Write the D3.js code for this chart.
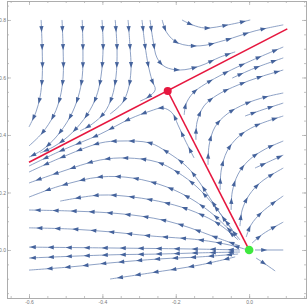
<!DOCTYPE html>
<html>
<head>
<meta charset="utf-8">
<script src="https://cdn.jsdelivr.net/npm/d3@7"></script>
<style>
  body { margin: 0; background: #fff; }
  svg { display: block; font-family: "DejaVu Sans", sans-serif; }
</style>
</head>
<body>
<div id="chart"></div>
<script>
// axis ticks
const xTicks = [-0.6, -0.4, -0.2, 0.0];
const xTickLabels = ["-0.6", "-0.4", "-0.2", "0.0"];
const yTicks = [0.0, 0.2, 0.4, 0.6, 0.8];
const yTickLabels = ["0.0", "0.2", "0.4", "0.6", "0.8"];

// equilibria
const saddlePoint = [-0.222, 0.553];
const sourcePoint = [0.0, 0.0];

// red separatrices
const unstableLine = [[-0.6, 0.305], [0.104, 0.769]];
const connectLine = [saddlePoint, sourcePoint];

// streamlines, each in flow order
const topLeftLines = [
  [[-0.567, 0.800], [-0.564, 0.696], [-0.564, 0.602], [-0.570, 0.532], [-0.581, 0.480], [-0.600, 0.428]],
  [[-0.510, 0.800], [-0.507, 0.696], [-0.507, 0.602], [-0.515, 0.532], [-0.532, 0.470], [-0.564, 0.407], [-0.600, 0.362]],
  [[-0.455, 0.800], [-0.453, 0.696], [-0.455, 0.602], [-0.466, 0.532], [-0.488, 0.463], [-0.526, 0.393], [-0.564, 0.348], [-0.600, 0.323]],
  [[-0.401, 0.800], [-0.398, 0.706], [-0.404, 0.602], [-0.417, 0.532], [-0.442, 0.470], [-0.483, 0.407], [-0.529, 0.362], [-0.570, 0.337]],
  [[-0.365, 0.800], [-0.360, 0.696], [-0.363, 0.602], [-0.374, 0.532], [-0.395, 0.477], [-0.428, 0.438], [-0.461, 0.414]],
  [[-0.330, 0.800], [-0.325, 0.713], [-0.322, 0.626], [-0.330, 0.557], [-0.346, 0.511], [-0.379, 0.473]],
  [[-0.292, 0.800], [-0.284, 0.713], [-0.275, 0.643], [-0.265, 0.591], [-0.256, 0.557], [-0.275, 0.532], [-0.297, 0.518]]
];

const topRightLines = [
  [[-0.270, 0.800], [-0.262, 0.730], [-0.251, 0.668], [-0.229, 0.637], [-0.188, 0.626], [-0.134, 0.640], [-0.079, 0.671], [-0.038, 0.689]],
  [[-0.237, 0.800], [-0.224, 0.755], [-0.194, 0.720], [-0.134, 0.710], [-0.065, 0.730], [0.016, 0.762], [0.093, 0.783]],
  [[-0.183, 0.800], [-0.155, 0.783], [-0.120, 0.772], [-0.057, 0.783], [0.003, 0.800]]
];

const rightFanLines = [
  [[-0.177, 0.470], [-0.172, 0.508], [-0.153, 0.546], [-0.120, 0.577], [-0.065, 0.616], [0.003, 0.657], [0.093, 0.706]],
  [[-0.046, 0.598], [0.016, 0.633], [0.093, 0.668]],
  [[-0.145, 0.383], [-0.142, 0.445], [-0.123, 0.501], [-0.087, 0.539], [-0.030, 0.574], [0.030, 0.602], [0.093, 0.626]],
  [[-0.112, 0.296], [-0.109, 0.365], [-0.093, 0.428], [-0.060, 0.473], [-0.011, 0.508], [0.044, 0.532], [0.093, 0.546]],
  [[-0.011, 0.466], [0.035, 0.487], [0.093, 0.511]],
  [[-0.079, 0.209], [-0.076, 0.278], [-0.060, 0.344], [-0.030, 0.393], [0.016, 0.431], [0.093, 0.466]],
  [[-0.049, 0.139], [-0.046, 0.202], [-0.030, 0.264], [0.000, 0.313], [0.044, 0.351], [0.093, 0.379]],
  [[0.016, 0.285], [0.052, 0.306], [0.093, 0.330]],
  [[-0.025, 0.083], [-0.019, 0.139], [0.000, 0.191], [0.033, 0.237], [0.093, 0.285]],
  [[-0.008, 0.045], [0.005, 0.087], [0.035, 0.132], [0.093, 0.188]],
  [[0.008, 0.024], [0.038, 0.056], [0.093, 0.097]],
  [[0.016, 0.000], [0.093, 0.000]],
  [[0.019, -0.028], [0.044, -0.049], [0.071, -0.073]]
];

const leftArcLines = [
  [[-0.150, 0.320], [-0.175, 0.383], [-0.194, 0.435], [-0.210, 0.477], [-0.235, 0.494], [-0.270, 0.483], [-0.325, 0.456], [-0.406, 0.403], [-0.515, 0.344], [-0.600, 0.292]],
  [[-0.025, 0.035], [-0.057, 0.087], [-0.098, 0.163], [-0.134, 0.233], [-0.169, 0.289], [-0.224, 0.341], [-0.270, 0.372], [-0.352, 0.379], [-0.406, 0.372], [-0.515, 0.320], [-0.600, 0.271]],
  [[-0.046, 0.070], [-0.093, 0.150], [-0.142, 0.219], [-0.196, 0.271], [-0.251, 0.306], [-0.333, 0.320], [-0.406, 0.313], [-0.515, 0.271], [-0.600, 0.233]],
  [[-0.038, 0.049], [-0.093, 0.118], [-0.153, 0.174], [-0.224, 0.219], [-0.316, 0.250], [-0.406, 0.254], [-0.515, 0.223], [-0.600, 0.184]],
  [[-0.030, 0.035], [-0.079, 0.087], [-0.147, 0.132], [-0.224, 0.163], [-0.316, 0.184], [-0.406, 0.191], [-0.515, 0.170]]
];

const bottomLines = [
  [[-0.025, 0.014], [-0.093, 0.045], [-0.161, 0.077], [-0.224, 0.101], [-0.297, 0.118], [-0.379, 0.129], [-0.496, 0.136], [-0.600, 0.139]],
  [[-0.011, 0.003], [-0.052, 0.017], [-0.134, 0.035], [-0.270, 0.049], [-0.379, 0.063], [-0.488, 0.073], [-0.600, 0.077]],
  [[-0.025, 0.000], [-0.134, 0.003], [-0.379, 0.007], [-0.600, 0.010]],
  [[-0.025, -0.007], [-0.134, -0.010], [-0.243, -0.014], [-0.379, -0.017], [-0.600, -0.028]],
  [[-0.030, -0.014], [-0.134, -0.024], [-0.243, -0.031], [-0.379, -0.045], [-0.488, -0.059], [-0.600, -0.070]],
  [[-0.038, -0.024], [-0.134, -0.052], [-0.270, -0.080], [-0.379, -0.101]]
];

const allLines = [].concat(topLeftLines, topRightLines, rightFanLines, leftArcLines, bottomLines);

const width = 307;
const height = 307;
const frame = {left: 7, right: 306, top: 1, bottom: 298};

const svg = d3.select("#chart")
  .append("svg")
  .attr("width", width)
  .attr("height", height);

const x = d3.scaleLinear()
  .domain([-0.66, 0.155])
  .range([frame.left, frame.right]);

const y = d3.scaleLinear()
  .domain([-0.167, 0.866])
  .range([frame.bottom, frame.top]);

// frame + ticks
const frameColor = "#aaaaaa";
const labelColor = "#777777";
const minorX = d3.range(-0.65, 0.151, 0.05);
const minorY = d3.range(-0.15, 0.851, 0.05);

function styleAxis(g) {
  g.select(".domain").attr("stroke", frameColor).attr("stroke-width", 0.8);
  g.selectAll(".tick line").attr("stroke", frameColor).attr("stroke-width", 0.7);
  g.selectAll(".tick text").attr("fill", labelColor).style("font-size", "5px");
}

// minor ticks on all sides
svg.append("g").attr("transform", `translate(0,${frame.bottom})`)
  .call(d3.axisBottom(x).tickValues(minorX).tickSize(-2).tickFormat(""))
  .call(styleAxis);
svg.append("g").attr("transform", `translate(0,${frame.top})`)
  .call(d3.axisTop(x).tickValues(minorX).tickSize(-2).tickFormat(""))
  .call(styleAxis);
svg.append("g").attr("transform", `translate(${frame.left},0)`)
  .call(d3.axisLeft(y).tickValues(minorY).tickSize(-2).tickFormat(""))
  .call(styleAxis);
svg.append("g").attr("transform", `translate(${frame.right},0)`)
  .call(d3.axisRight(y).tickValues(minorY).tickSize(-2).tickFormat(""))
  .call(styleAxis);

// major ticks
svg.append("g").attr("transform", `translate(0,${frame.bottom})`)
  .call(d3.axisBottom(x).tickValues(xTicks).tickSize(-4).tickPadding(2)
    .tickFormat((d, i) => xTickLabels[i]))
  .call(styleAxis);
svg.append("g").attr("transform", `translate(0,${frame.top})`)
  .call(d3.axisTop(x).tickValues(xTicks).tickSize(-4).tickFormat(""))
  .call(styleAxis);
svg.append("g").attr("transform", `translate(${frame.left},0)`)
  .call(d3.axisLeft(y).tickValues(yTicks).tickSize(-4).tickPadding(1)
    .tickFormat((d, i) => yTickLabels[i]))
  .call(styleAxis);
svg.append("g").attr("transform", `translate(${frame.right},0)`)
  .call(d3.axisRight(y).tickValues(yTicks).tickSize(-4).tickFormat(""))
  .call(styleAxis);

// streamlines
const line = d3.line()
  .x(d => x(d[0]))
  .y(d => y(d[1]))
  .curve(d3.curveCatmullRom.alpha(0.5));

const streamG = svg.append("g").attr("class", "streams");
const arrowG = svg.append("g").attr("class", "arrows");

streamG.selectAll("path")
  .data(allLines)
  .enter().append("path")
  .attr("d", line)
  .style("fill", "none")
  .style("stroke", "#7890bb")
  .style("stroke-width", 0.85)
  .each(function() {
    const node = this;
    const L = node.getTotalLength();
    for (let s = 9; s < L - 3; s += 18) {
      const p = node.getPointAtLength(s);
      const a = node.getPointAtLength(Math.max(0, s - 1));
      const b = node.getPointAtLength(Math.min(L, s + 1));
      let dx = b.x - a.x, dy = b.y - a.y;
      const n = Math.hypot(dx, dy) || 1;
      dx /= n; dy /= n;
      const tip = [p.x + dx * 3.2, p.y + dy * 3.2];
      const bx = p.x - dx * 2.8, by = p.y - dy * 2.8;
      const l = [bx - dy * 2.1, by + dx * 2.1];
      const r = [bx + dy * 2.1, by - dx * 2.1];
      arrowG.append("path")
        .attr("d", `M${tip[0]},${tip[1]}L${l[0]},${l[1]}L${r[0]},${r[1]}Z`)
        .style("fill", "#45639c");
    }
  });

// red separatrices
const straight = d3.line().x(d => x(d[0])).y(d => y(d[1]));
[unstableLine, connectLine].forEach(seg => {
  svg.append("path")
    .attr("d", straight(seg))
    .style("fill", "none")
    .style("stroke", "#e6173f")
    .style("stroke-width", 1.6);
});

// equilibrium points
svg.append("circle")
  .attr("cx", x(saddlePoint[0]))
  .attr("cy", y(saddlePoint[1]))
  .attr("r", 4)
  .style("fill", "#e6173f");

svg.append("circle")
  .attr("cx", x(sourcePoint[0]))
  .attr("cy", y(sourcePoint[1]))
  .attr("r", 4.3)
  .style("fill", "#3ee83e");
</script>
</body>
</html>
